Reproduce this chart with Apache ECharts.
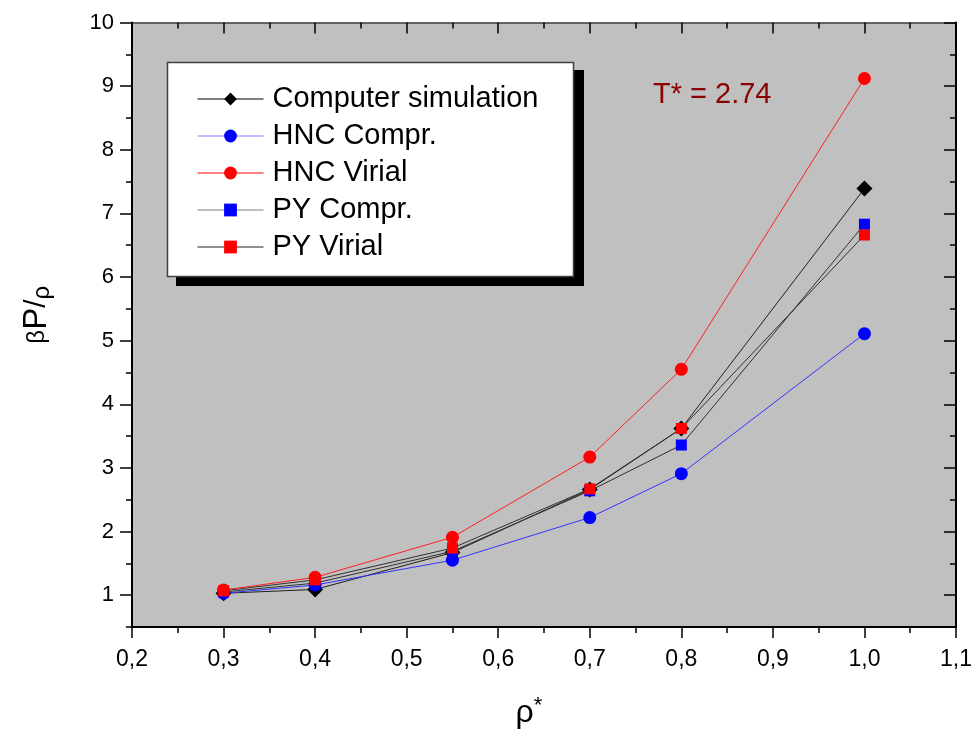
<!DOCTYPE html>
<html>
<head>
<meta charset="utf-8">
<script src="https://cdn.jsdelivr.net/npm/echarts@6/dist/echarts.min.js"></script>
<style>
  html, body { margin: 0; padding: 0; background: #ffffff; }
  #chart { width: 974px; height: 729px; }
</style>
</head>
<body>
<div id="chart"></div>
<script>
// Reduced density rho* at which each state point was evaluated
const rho = [0.3, 0.4, 0.55, 0.7, 0.8, 1.0];

// Compressibility factor beta P / rho for each method
const simulation = [1.03, 1.09, 1.67, 2.66, 3.62, 7.39];
const hncCompr   = [1.03, 1.16, 1.55, 2.22, 2.91, 5.11];
const hncVirial  = [1.08, 1.28, 1.91, 3.17, 4.55, 9.12];
const pyCompr    = [1.05, 1.19, 1.69, 2.64, 3.36, 6.83];
const pyVirial   = [1.07, 1.24, 1.74, 2.67, 3.62, 6.66];

// Axis ticks
const yMajorTicks = [1, 2, 3, 4, 5, 6, 7, 8, 9, 10];
const yMinorTicks = [0.5, 1.5, 2.5, 3.5, 4.5, 5.5, 6.5, 7.5, 8.5, 9.5];

const FONT = '"Liberation Sans", Arial, sans-serif';
const pairs = ys => rho.map((x, i) => [x, ys[i]]);

const chart = echarts.init(document.getElementById('chart'), null, { renderer: 'canvas' });

const grid = { left: 132, right: 18, top: 22.5, bottom: 102, show: true,
  outerBoundsMode: 'none', containLabel: false,
  backgroundColor: '#c0c0c0', borderWidth: 0 };

const xBase = { type: 'value', min: 0.2, max: 1.1, interval: 0.1, splitLine: { show: false } };
const yBase = { type: 'value', min: 0.5, max: 10, splitLine: { show: false } };

function lineSeries(name, ys, symbol, size, color, lineColor, z) {
  return {
    name, type: 'line', data: pairs(ys), symbol, symbolSize: size, z,
    showSymbol: true, animation: false,
    itemStyle: { color, opacity: 1 },
    lineStyle: { color: lineColor, width: 1 },
    emphasis: { disabled: true }
  };
}

const option = {
  animation: false,
  textStyle: { fontFamily: FONT },
  grid,
  title: {
    text: 'T* = 2.74', left: 648, top: 75,
    textStyle: { color: '#8b0000', fontSize: 29, fontWeight: 'normal', fontFamily: FONT }
  },
  // Legend frame with its solid drop shadow
  graphic: [
    { type: 'rect', z: 3, silent: true, shape: { x: 176, y: 70, width: 408, height: 216 },
      style: { fill: '#000000' } },
    { type: 'rect', z: 4, silent: true, shape: { x: 167.5, y: 62.5, width: 406, height: 214 },
      style: { fill: '#ffffff', stroke: '#404040', lineWidth: 1.5 } }
  ],
  legend: {
    orient: 'vertical', left: 167, top: 63, z: 10,
    padding: [21, 31, 18, 30],
    backgroundColor: 'transparent', borderWidth: 0,
    itemWidth: 66, itemHeight: 16, itemGap: 7,
    textStyle: { fontSize: 29, color: '#000000', fontFamily: FONT, lineHeight: 30, padding: [0, 0, 0, 4] },
    data: [
      { name: 'Computer simulation', lineStyle: { color: '#000000', width: 1 } },
      { name: 'HNC Compr.', lineStyle: { color: '#8080ff', width: 1 } },
      { name: 'HNC Virial', lineStyle: { color: '#ff0000', width: 1 } },
      { name: 'PY Compr.', lineStyle: { color: '#808080', width: 1 } },
      { name: 'PY Virial', lineStyle: { color: '#202020', width: 1 } }
    ],
    selectedMode: false
  },
  xAxis: [
    Object.assign({}, xBase, {
      position: 'bottom',
      name: '{r|ρ}{s|*}', nameLocation: 'middle', nameGap: 68,
      nameTextStyle: { padding: [0, 30, 0, 0], rich: {
        r: { fontSize: 32, fontFamily: FONT, color: '#000' },
        s: { fontSize: 22, fontFamily: FONT, color: '#000', verticalAlign: 'top', padding: [0, 0, 14, 0] }
      } },
      axisLine: { show: true, onZero: false, lineStyle: { color: '#000', width: 2 } },
      axisTick: { show: true, inside: false, length: 11, lineStyle: { color: '#000', width: 1.5 } },
      minorTick: { show: true, splitNumber: 2, length: 6, lineStyle: { color: '#000', width: 1.5 } },
      axisLabel: { margin: 21, fontSize: 23, color: '#000', fontFamily: FONT,
        formatter: v => v.toFixed(1).replace('.', ',') }
    }),
    Object.assign({}, xBase, {
      position: 'top',
      axisLine: { show: true, onZero: false, lineStyle: { color: '#404040', width: 1.5 } },
      axisTick: { show: true, inside: true, length: 11, lineStyle: { color: '#000', width: 1.5 } },
      minorTick: { show: true, splitNumber: 2, length: 6, lineStyle: { color: '#000', width: 1.5 } },
      axisLabel: { show: false }
    })
  ],
  yAxis: [
    Object.assign({}, yBase, {
      position: 'left',
      name: '{b|β}{p|P}{s|/}{r|ρ}', nameLocation: 'middle', nameGap: 78, nameRotate: 90,
      nameTextStyle: { padding: [0, 0, 0, 20], rich: {
        b: { fontSize: 24, fontFamily: FONT, color: '#000' },
        p: { fontSize: 33, fontFamily: FONT, color: '#000' },
        s: { fontSize: 30, fontFamily: FONT, color: '#000' },
        r: { fontSize: 24, fontFamily: FONT, color: '#000', verticalAlign: 'bottom', padding: [10, 0, 0, 0] }
      } },
      axisLine: { show: true, onZero: false, lineStyle: { color: '#000', width: 2 } },
      axisTick: { show: true, inside: false, length: 12, customValues: yMajorTicks,
        lineStyle: { color: '#000', width: 1.5 } },
      axisLabel: { margin: 18, fontSize: 22, color: '#000', fontFamily: FONT, customValues: yMajorTicks }
    }),
    Object.assign({}, yBase, {
      position: 'left',
      axisLine: { show: false },
      axisTick: { show: true, inside: false, length: 6, customValues: yMinorTicks,
        lineStyle: { color: '#000', width: 1.5 } },
      axisLabel: { show: false, customValues: yMinorTicks }
    }),
    Object.assign({}, yBase, {
      position: 'right',
      axisLine: { show: true, onZero: false, lineStyle: { color: '#000', width: 2 } },
      axisTick: { show: true, inside: true, length: 12, customValues: yMajorTicks,
        lineStyle: { color: '#000', width: 1.5 } },
      axisLabel: { show: false, customValues: yMajorTicks }
    }),
    Object.assign({}, yBase, {
      position: 'right',
      axisLine: { show: false },
      axisTick: { show: true, inside: true, length: 6, customValues: yMinorTicks,
        lineStyle: { color: '#000', width: 1.5 } },
      axisLabel: { show: false, customValues: yMinorTicks }
    })
  ],
  series: [
    lineSeries('Computer simulation', simulation, 'diamond', 16, '#000000', '#202020', 2),
    lineSeries('HNC Compr.', hncCompr, 'circle', 13, '#0000ff', '#3333ff', 3),
    lineSeries('HNC Virial', hncVirial, 'circle', 13, '#ff0000', '#ff2020', 6),
    lineSeries('PY Compr.', pyCompr, 'rect', 11, '#0000ff', '#303030', 4),
    lineSeries('PY Virial', pyVirial, 'rect', 11, '#ff0000', '#303030', 5)
  ]
};

chart.setOption(option);
</script>
</body>
</html>
